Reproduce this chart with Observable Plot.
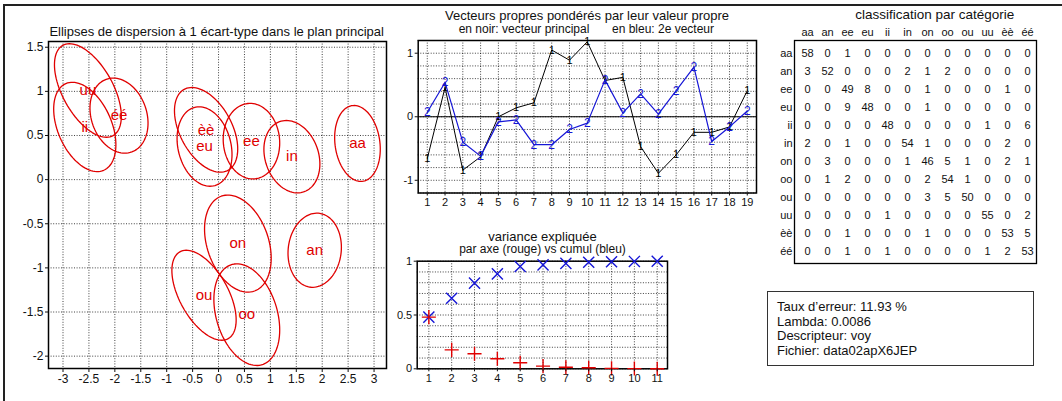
<!DOCTYPE html>
<html><head><meta charset="utf-8">
<script src="https://cdn.jsdelivr.net/npm/d3@7"></script>
<script src="https://cdn.jsdelivr.net/npm/@observablehq/plot@0.6"></script>
<style>
body{margin:0;background:#fff;font-family:"Liberation Sans",Arial,Helvetica,sans-serif;}
#root{position:relative;width:1062px;height:401px;overflow:hidden;background:#fff;}
.t{position:absolute;white-space:pre;line-height:1;color:#111;transform:translate(-50%,-50%);}
.pl{position:absolute;}
#frameTL{position:absolute;left:3px;top:4px;width:1070px;height:410px;border-top:2px solid #222;border-left:2px solid #222;}
#info{position:absolute;left:767px;top:291px;width:256px;height:65px;border:1px solid #333;padding:8px 0 0 9px;font-size:13px;line-height:14.7px;color:#111;}
</style></head>
<body><div id="root"><div id="frameTL"></div></div>
<script>
// ---------- data ----------
const ellipseLabels = ["aa","an","ee","eu","ii","in","on","oo","ou","uu","èè","éé"];
const ellipseCx  = [2.68, 1.855, 0.635, -0.27, -2.58, 1.415, 0.373, 0.545, -0.28, -2.52, -0.24, -1.92];
const ellipseCy  = [0.41, -0.80, 0.436, 0.375, 0.597, 0.26, -0.725, -1.53, -1.31, 1.01, 0.564, 0.725];
const ellipseSx  = [0.44, 0.515, 0.545, 0.53, 0.60, 0.54, 0.643, 0.635, 0.62, 0.645, 0.61, 0.56];
const ellipseSy  = [0.43, 0.42, 0.428, 0.45, 0.506, 0.41, 0.55, 0.576, 0.51, 0.53, 0.48, 0.425];
const ellipseRho = [-0.15, 0.08, -0.05, -0.2, -0.4, -0.2, -0.3, -0.3, -0.55, -0.55, -0.45, -0.2];
const ellXTicks = [-3,-2.5,-2,-1.5,-1,-0.5,0,0.5,1,1.5,2,2.5,3];
const ellYTicks = [-2,-1.5,-1,-0.5,0,0.5,1,1.5];

const eigIndex = [1,2,3,4,5,6,7,8,9,10,11,12,13,14,15,16,17,18,19];
const vec1 = [-0.66,0.46,-0.84,-0.63,0.0,0.14,0.22,1.05,0.89,1.18,0.57,0.62,-0.47,-0.89,-0.60,-0.245,-0.245,-0.16,0.41];
const vec2 = [0.07,0.54,-0.40,-0.62,-0.08,-0.05,-0.44,-0.44,-0.20,-0.10,0.58,0.06,0.36,0.04,0.41,0.78,-0.39,-0.16,0.09];
const eigGridY = [-1.2,-1,-0.8,-0.6,-0.4,-0.2,0,0.2,0.4,0.6,0.8,1,1.2];
const eigYTicks = [-1,0,1];

const axesIdx = [1,2,3,4,5,6,7,8,9,10,11];
const varAxis  = [0.48,0.176,0.14,0.093,0.056,0.025,0.015,0.01,0.004,0.002,0.001];
const varCumul = [0.48,0.656,0.796,0.882,0.95,0.966,0.98,0.99,0.995,0.998,1.0];
const varGridY = [0,0.1,0.2,0.3,0.4,0.5,0.6,0.7,0.8,0.9,1];
const varYTicks = [0,0.5,1];

const classes = ["aa","an","ee","eu","ii","in","on","oo","ou","uu","èè","éé"];
const confusion = [
 [58,0,1,0,0,0,0,0,0,0,0,0],
 [3,52,0,0,0,2,1,2,0,0,0,0],
 [0,0,49,8,0,0,1,0,0,0,1,0],
 [0,0,9,48,0,0,1,0,0,0,0,0],
 [0,0,0,0,48,0,0,0,0,1,0,6],
 [2,0,1,0,0,54,1,0,0,0,2,0],
 [0,3,0,0,0,1,46,5,1,0,2,1],
 [0,1,2,0,0,0,2,54,1,0,0,0],
 [0,0,0,0,0,0,3,5,50,0,0,0],
 [0,0,0,0,1,0,0,0,0,55,0,2],
 [0,0,1,0,0,0,1,0,0,0,53,5],
 [0,0,1,0,1,0,0,0,0,1,2,53]
];
const infoLines = ["Taux d’erreur: 11.93 %","Lambda: 0.0086","Descripteur: voy","Fichier: data02apX6JEP"];

// ---------- helpers ----------
const root = document.getElementById("root");
const FONT = "Liberation Sans, Arial, Helvetica, sans-serif";
function place(el, left, top){ const d=document.createElement("div"); d.className="pl"; d.style.left=left+"px"; d.style.top=top+"px"; d.appendChild(el); root.appendChild(d); }
function label(txt, cx, cy, size){ const d=document.createElement("div"); d.className="t"; d.textContent=txt; d.style.left=cx+"px"; d.style.top=cy+"px"; d.style.fontSize=size+"px"; root.appendChild(d); }
const gridStyle = {stroke:"#000", strokeOpacity:0.75, strokeDasharray:"1,1.6", strokeWidth:1};
const fmt = d => String(d);

// ---------- panel 1: ellipses ----------
const ellPts = [];
ellipseLabels.forEach((lab,i)=>{
  const r = ellipseRho[i], q = Math.sqrt(1-r*r);
  for(let k=0;k<=96;k++){ const t=2*Math.PI*k/96;
    ellPts.push({lab, x: ellipseCx[i]+ellipseSx[i]*Math.cos(t), y: ellipseCy[i]+ellipseSy[i]*(r*Math.cos(t)+q*Math.sin(t))}); }
});
const p1 = Plot.plot({
  width:400, height:380, marginLeft:48, marginRight:14, marginTop:21, marginBottom:32,
  style:{fontFamily:FONT, fontSize:"12px", color:"#111", background:"transparent"},
  x:{domain:[-3.28,3.24]}, y:{domain:[-2.14,1.565]},
  marks:[
    Plot.gridX(ellXTicks, gridStyle),
    Plot.gridY(ellYTicks, gridStyle),
    Plot.line(ellPts, {x:"x", y:"y", z:"lab", stroke:"#e00000", strokeWidth:1.3}),
    Plot.text(ellipseLabels, {x:(d,i)=>ellipseCx[i], y:(d,i)=>ellipseCy[i], text:d=>d, fill:"#e00000", fontSize:15}),
    Plot.frame({stroke:"#000", strokeWidth:1.5}),
    Plot.axisX(ellXTicks, {tickSize:4, tickPadding:2, tickFormat:fmt, label:null}),
    Plot.axisY(ellYTicks, {tickSize:3, tickPadding:2, tickFormat:fmt, label:null})
  ]
});
place(p1, 0, 20);
label("Ellipses de dispersion à 1 écart-type dans le plan principal", 216.7, 30.7, 13);

// ---------- panel 2: eigenvectors ----------
const blue = "#1515d6";
const p2 = Plot.plot({
  width:367, height:180, marginLeft:22.7, marginRight:6, marginTop:5, marginBottom:22.5,
  style:{fontFamily:FONT, fontSize:"11px", color:"#111", background:"transparent"},
  x:{domain:[0.49,19.52]}, y:{domain:[-1.2,1.2]},
  marks:[
    Plot.gridX(eigIndex, gridStyle),
    Plot.gridY(eigGridY, gridStyle),
    Plot.ruleY([0], {stroke:"#000", strokeWidth:1.2}),
    Plot.line(eigIndex, {x:d=>d, y:(d,i)=>vec1[i], stroke:"#000", strokeWidth:1}),
    Plot.text(eigIndex, {x:d=>d, y:(d,i)=>vec1[i], text:()=>"1", fill:"#000", fontSize:11}),
    Plot.line(eigIndex, {x:d=>d, y:(d,i)=>vec2[i], stroke:blue, strokeWidth:1.2}),
    Plot.text(eigIndex, {x:d=>d, y:(d,i)=>vec2[i], text:()=>"2", fill:blue, fontSize:12}),
    Plot.frame({stroke:"#000", strokeWidth:1.5}),
    Plot.axisX(eigIndex, {tickSize:3, tickPadding:2, tickFormat:fmt, label:null}),
    Plot.axisY(eigYTicks, {tickSize:3, tickPadding:2, tickFormat:fmt, label:null})
  ]
});
place(p2, 395, 35);
label("Vecteurs propres pondérés par leur valeur propre", 587, 15, 13);
label("en noir: vecteur principal", 524, 29, 12);
label("en bleu: 2e vecteur", 663, 29, 12);

// ---------- panel 3: explained variance ----------
const red = "#e00000";
const p3 = Plot.plot({
  width:280, height:140, marginLeft:21.7, marginRight:8, marginTop:10.7, marginBottom:21.7,
  style:{fontFamily:FONT, fontSize:"11px", color:"#111", background:"transparent"},
  x:{domain:[0.49,11.45]}, y:{domain:[0,1]},
  marks:[
    Plot.gridX(axesIdx, gridStyle),
    Plot.gridY(varGridY, gridStyle),
    Plot.frame({stroke:"#000", strokeWidth:1.5}),
    Plot.dot(axesIdx, {x:d=>d, y:(d,i)=>varCumul[i], symbol:"times", r:5.1, stroke:blue, strokeWidth:1.4, fill:"none"}),
    Plot.dot(axesIdx, {x:d=>d, y:(d,i)=>varAxis[i], symbol:"plus", r:4.6, stroke:red, strokeWidth:1.4, fill:"none"}),
    Plot.axisX(axesIdx, {tickSize:3, tickPadding:2, tickFormat:fmt, label:null}),
    Plot.axisY(varYTicks, {tickSize:3, tickPadding:2, tickFormat:fmt, label:null})
  ]
});
place(p3, 395, 250);
label("variance expliquée", 542.5, 235.7, 13);
label("par axe (rouge) vs cumul (bleu)", 542.5, 249.3, 12);

// ---------- panel 4: confusion table ----------
const cells = [];
confusion.forEach((row,i)=>row.forEach((v,j)=>cells.push({r:classes[i], c:classes[j], v})));
const p4 = Plot.plot({
  width:300, height:250, marginLeft:39, marginRight:19, marginTop:22, marginBottom:5,
  style:{fontFamily:FONT, fontSize:"11px", color:"#111", background:"transparent"},
  x:{type:"point", domain:classes, padding:0.5}, y:{type:"point", domain:classes, padding:0.5},
  marks:[
    Plot.text(cells, {x:"c", y:"r", text:"v", fontSize:11, dx:2}),
    Plot.frame({stroke:"#000", strokeWidth:1.3}),
    Plot.axisX({anchor:"top", tickSize:0, tickPadding:5, label:null, dx:2}),
    Plot.axisY({anchor:"left", tickSize:0, tickPadding:2, label:null})
  ]
});
place(p4, 755, 18);
label("classification par catégorie", 934.7, 15, 13.5);

// ---------- info box ----------
const info = document.createElement("div");
info.id = "info";
info.innerHTML = infoLines.map(s=>"<div>"+s+"</div>").join("");
root.appendChild(info);
</script>
</body></html>
